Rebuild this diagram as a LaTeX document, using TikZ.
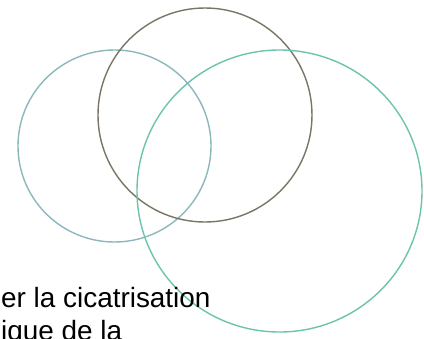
\documentclass[tikz,border=0pt]{standalone}
\usepackage{fontspec}
\setmainfont{Liberation Sans}
\begin{document}
\begin{tikzpicture}[x=1bp,y=-1bp,
  ring/.style={line width=1.4bp},
  txt/.style={anchor=base west,inner sep=0pt,font=\fontsize{28}{33}\selectfont}]
\definecolor{cleft}{HTML}{8AB8BD}
\definecolor{cbrown}{HTML}{7A7565}
\definecolor{cgreen}{HTML}{6CC4AE}
\useasboundingbox (0,0) rectangle (424,339);
\clip (0,0) rectangle (424,339);
\fill[white] (0,0) rectangle (424,339);
\draw[ring,cleft] (114.5,146) ellipse [x radius=96.5, y radius=96];
\draw[ring,cbrown] (205,115) ellipse [x radius=107, y radius=107];
\draw[ring,cgreen] (279.5,191) ellipse [x radius=142.5, y radius=141];
\node[txt] (l1) at (1,307) {er la cicatrisation};
\node[txt] (l2) at (1,340) {ique de la};
\end{tikzpicture}
\end{document}
